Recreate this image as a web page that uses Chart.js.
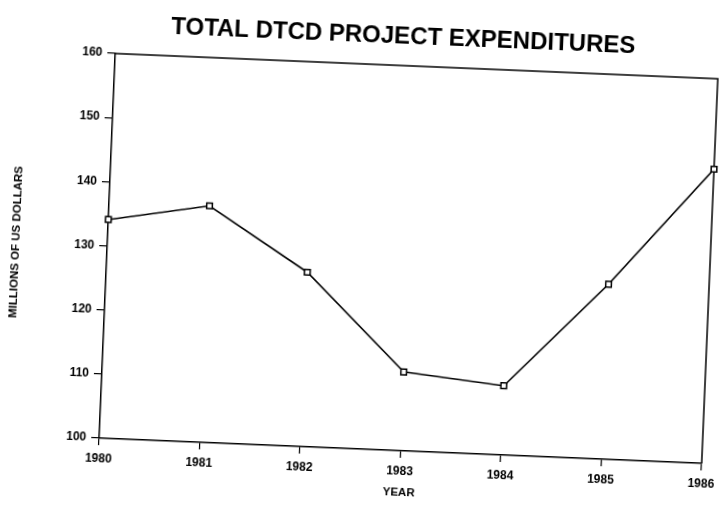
<!DOCTYPE html>
<html>
<head>
<meta charset="utf-8">
<script src="https://cdn.jsdelivr.net/npm/chart.js@4.4.1/dist/chart.umd.min.js"></script>
<style>
  html, body { margin: 0; padding: 0; background: #fff; overflow: hidden; width: 719px; height: 509px; }
  #wrap { position: absolute; left: 0; top: 0; width: 760px; height: 509px;
          transform-origin: 409px 258.5px; transform: rotate(2.4deg); }
  canvas { display: block; }
</style>
</head>
<body>
<div id="wrap"><canvas id="c" width="760" height="509"></canvas></div>
<script>
// ---- data ----
const chartTitle = 'TOTAL DTCD PROJECT EXPENDITURES';
const xAxisTitle = 'YEAR';
const yAxisTitle = 'MILLIONS OF US DOLLARS';
const years = ['1980', '1981', '1982', '1983', '1984', '1985', '1986'];
const expenditures = [134.1, 136.9, 127.2, 112.3, 110.8, 127.3, 145.9];
const yTickValues = [100, 110, 120, 130, 140, 150, 160];

const FONT = '"Liberation Sans", Arial, Helvetica, sans-serif';

const scanTitle = {
  id: 'scanTitle',
  afterDraw(chart, args, opts) {
    const ctx = chart.ctx;
    ctx.save();
    ctx.font = opts.font;
    ctx.fillStyle = opts.color;
    ctx.textAlign = 'center';
    ctx.textBaseline = 'middle';
    ctx.fillText(opts.text, opts.x, opts.y);
    ctx.restore();
  }
};

const frameBox = {
  id: 'frameBox',
  beforeDatasetsDraw(chart) {
    const { ctx, chartArea: a } = chart;
    ctx.save();
    ctx.strokeStyle = '#000';
    ctx.lineWidth = 1.5;
    ctx.beginPath();
    ctx.moveTo(a.left, a.top);
    ctx.lineTo(a.right, a.top);
    ctx.lineTo(a.right, a.bottom);
    ctx.stroke();
    ctx.restore();
  }
};

new Chart(document.getElementById('c'), {
  type: 'line',
  data: {
    labels: years,
    datasets: [{
      label: 'Expenditures',
      data: expenditures,
      borderColor: '#000',
      borderWidth: 1.6,
      backgroundColor: '#fff',
      pointStyle: 'rect',
      pointRadius: 4,
      pointBorderWidth: 1.5,
      pointBorderColor: '#000',
      pointBackgroundColor: '#fff',
      tension: 0,
      fill: false
    }]
  },
  options: {
    responsive: false,
    animation: false,
    devicePixelRatio: 1,
    layout: { padding: { top: 66, left: 5, right: 0, bottom: 5 } },
    plugins: {
      legend: { display: false },
      title: { display: false },
      tooltip: { enabled: false },
      scanTitle: { text: chartTitle, x: 394, y: 37, color: '#000', font: 'bold 24px ' + FONT }
    },
    scales: {
      x: {
        type: 'category',
        offset: false,
        grid: { display: true, drawOnChartArea: false, drawTicks: true, tickLength: 7, color: '#000', lineWidth: 1.2 },
        border: { display: true, color: '#000', width: 1.5 },
        ticks: { color: '#000', padding: 6, maxRotation: 0, autoSkip: false, font: { family: FONT, size: 12, weight: 'bold' } },
        title: { display: true, text: xAxisTitle, color: '#000', padding: { top: 4, bottom: 4 }, font: { family: FONT, size: 11.5, weight: 'bold' } },
        afterFit(scale) { scale.height = 53; scale.paddingRight = 50; scale.paddingLeft = 0; }
      },
      y: {
        min: 100, max: 160,
        afterBuildTicks(scale) { scale.ticks = yTickValues.map(v => ({ value: v })); },
        grid: { display: true, drawOnChartArea: false, drawTicks: true, tickLength: 8, color: '#000', lineWidth: 1.2 },
        border: { display: true, color: '#000', width: 1.5 },
        ticks: { color: '#000', padding: 5, font: { family: FONT, size: 12, weight: 'bold' } },
        title: { display: true, text: yAxisTitle, color: '#000', padding: { top: 4, bottom: 4 }, font: { family: FONT, size: 11.5, weight: 'bold' } },
        afterFit(scale) { scale.width = 102; }
      }
    }
  },
  plugins: [scanTitle, frameBox]
});
</script>
</body>
</html>
